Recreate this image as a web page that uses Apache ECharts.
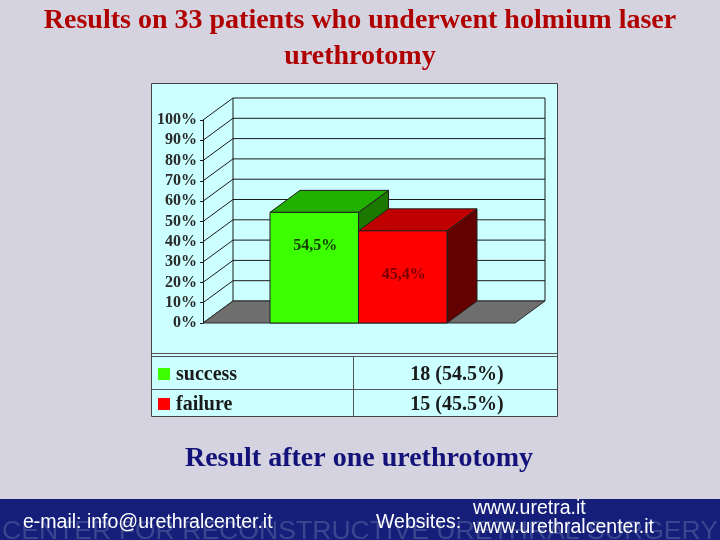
<!DOCTYPE html>
<html><head><meta charset="utf-8">
<script src="https://cdn.jsdelivr.net/npm/echarts@6/dist/echarts.min.js"></script>
<style>html,body{margin:0;padding:0;background:#d4d3df}#c{width:720px;height:540px}</style>
</head><body><div id="c"></div>
<script>
// ---- data ----
const categories = ['success', 'failure'];
const percentValues = [54.5, 45.4];
const barLabels = ['54,5%', '45,4%'];
const patientCounts = [18, 15];
const tablePercents = ['54.5%', '45.5%'];
const yTicks = [0, 10, 20, 30, 40, 50, 60, 70, 80, 90, 100];
const titleLines = ['Results on 33 patients who underwent holmium laser', 'urethrotomy'];
const subtitleText = 'Result after one urethrotomy';

// ---- style ----
const DX = 30, DY = -22;
const frontColors = ['#3cff00', '#ff0000'];
const topColors = ['#22b000', '#c00000'];
const sideColors = ['#1d7800', '#630000'];
const labelColors = ['#153f00', '#7a0000'];
const labelDrop = [33, 44];
const SERIF = '"Liberation Serif","Times New Roman",serif';
const SANS = '"Liberation Sans",Arial,sans-serif';
const LINE = '#1a1a1a';

const chart = echarts.init(document.getElementById('c'));

function wallsItem(params, api) {
  const v = api.value(1);
  const pL = api.coord([0, v]);
  const pR = api.coord([1, v]);
  const children = [];
  children.push({type: 'line', shape: {x1: pL[0] + DX, y1: pL[1] + DY, x2: pR[0] + DX, y2: pR[1] + DY}, style: {stroke: LINE, lineWidth: 1}});
  children.push({type: 'line', shape: {x1: pL[0], y1: pL[1], x2: pL[0] + DX, y2: pL[1] + DY}, style: {stroke: LINE, lineWidth: 1}});
  if (params.dataIndex === 0) {
    children.push({type: 'polygon', shape: {points: [[pL[0], pL[1]], [pR[0], pR[1]], [pR[0] + DX, pR[1] + DY], [pL[0] + DX, pL[1] + DY]]},
      style: {fill: '#6e6e6e', stroke: '#2a2a2a', lineWidth: 1}});
  }
  if (params.dataIndex === yTicks.length - 1) {
    const bL = api.coord([0, 0]), bR = api.coord([1, 0]);
    children.push({type: 'line', shape: {x1: bL[0] + DX, y1: bL[1] + DY, x2: pL[0] + DX, y2: pL[1] + DY}, style: {stroke: LINE, lineWidth: 1}});
    children.push({type: 'line', shape: {x1: bR[0] + DX, y1: bR[1] + DY, x2: pR[0] + DX, y2: pR[1] + DY}, style: {stroke: LINE, lineWidth: 1}});
  }
  return {type: 'group', children};
}

function barItem(params, api) {
  const i = params.dataIndex;
  const top = api.coord([api.value(0), api.value(1)]);
  const base = api.coord([api.value(0), 0]);
  const w = api.size([1, 0])[0];
  const x0 = top[0] - w / 2, x1 = top[0] + w / 2, yT = top[1], yB = base[1];
  const st = {stroke: '#202020', lineWidth: 1};
  return {type: 'group', children: [
    {type: 'polygon', shape: {points: [[x1, yT], [x1 + DX, yT + DY], [x1 + DX, yB + DY], [x1, yB]]}, style: Object.assign({fill: sideColors[i]}, st)},
    {type: 'polygon', shape: {points: [[x0, yT], [x0 + DX, yT + DY], [x1 + DX, yT + DY], [x1, yT]]}, style: Object.assign({fill: topColors[i]}, st)},
    {type: 'rect', shape: {x: x0, y: yT, width: w, height: yB - yT}, style: Object.assign({fill: frontColors[i]}, st)},
    {type: 'text', style: {text: barLabels[i], x: top[0] + 1, y: yT + labelDrop[i], fill: labelColors[i],
      font: 'bold 16px ' + SERIF, align: 'center', verticalAlign: 'middle', textAlign: 'center', textVerticalAlign: 'middle'}}
  ]};
}

// ---- graphic: box, table, titles, footer ----
const g = [];
g.push({type: 'rect', z: -10, shape: {x: 151.5, y: 83.5, width: 406, height: 333}, style: {fill: '#ccffff', stroke: '#444', lineWidth: 1}});
g.push({type: 'line', z: -5, shape: {x1: 151, y1: 353.5, x2: 557, y2: 353.5}, style: {stroke: '#555', lineWidth: 1}});
g.push({type: 'line', z: -5, shape: {x1: 151, y1: 356.5, x2: 557, y2: 356.5}, style: {stroke: '#555', lineWidth: 1}});
g.push({type: 'line', z: -5, shape: {x1: 151, y1: 389.5, x2: 557, y2: 389.5}, style: {stroke: '#555', lineWidth: 1}});
g.push({type: 'line', z: -5, shape: {x1: 353.5, y1: 356, x2: 353.5, y2: 416}, style: {stroke: '#555', lineWidth: 1}});
const rowY = [375, 405];
categories.forEach((c, i) => {
  g.push({type: 'rect', shape: {x: 158, y: rowY[i] - 7, width: 12, height: 12}, style: {fill: frontColors[i]}});
  g.push({type: 'text', style: {text: c, x: 176, y: rowY[i], fill: '#1a1a1a', font: 'bold 20px ' + SERIF, textAlign: 'left', textVerticalAlign: 'middle', align: 'left', verticalAlign: 'middle'}});
  g.push({type: 'text', style: {text: patientCounts[i] + ' (' + tablePercents[i] + ')', x: 457, y: rowY[i], fill: '#1a1a1a', font: 'bold 20px ' + SERIF, textAlign: 'center', textVerticalAlign: 'middle', align: 'center', verticalAlign: 'middle'}});
});
const titleY = [21, 57];
titleLines.forEach((t, i) => {
  g.push({type: 'text', style: {text: t, x: 360, y: titleY[i], fill: '#b00000', font: 'bold 28px ' + SERIF, textAlign: 'center', textVerticalAlign: 'middle', align: 'center', verticalAlign: 'middle'}});
});
g.push({type: 'text', style: {text: subtitleText, x: 359, y: 459, fill: '#12127a', font: 'bold 28px ' + SERIF, textAlign: 'center', textVerticalAlign: 'middle', align: 'center', verticalAlign: 'middle'}});
// footer
g.push({type: 'rect', shape: {x: 0, y: 499, width: 720, height: 41}, style: {fill: '#151f7a'}});
g.push({type: 'text', style: {text: 'CENTER FOR RECONSTRUCTIVE URETHRAL SURGERY', x: 360, y: 532, fill: '#3a4590', font: '26.6px ' + SANS, textAlign: 'center', textVerticalAlign: 'middle', align: 'center', verticalAlign: 'middle'}});
g.push({type: 'text', style: {text: 'e-mail: info@urethralcenter.it', x: 23, y: 523, fill: '#ffffff', font: '19.5px ' + SANS, textAlign: 'left', textVerticalAlign: 'middle', align: 'left', verticalAlign: 'middle'}});
g.push({type: 'text', style: {text: 'Websites:', x: 376, y: 523, fill: '#ffffff', font: '19.5px ' + SANS, textAlign: 'left', textVerticalAlign: 'middle', align: 'left', verticalAlign: 'middle'}});
g.push({type: 'text', style: {text: 'www.uretra.it', x: 473, y: 509, fill: '#ffffff', font: '19.5px ' + SANS, textAlign: 'left', textVerticalAlign: 'middle', align: 'left', verticalAlign: 'middle'}});
g.push({type: 'text', style: {text: 'www.urethralcenter.it', x: 473, y: 528, fill: '#ffffff', font: '19.5px ' + SANS, textAlign: 'left', textVerticalAlign: 'middle', align: 'left', verticalAlign: 'middle'}});

chart.setOption({
  backgroundColor: '#d4d3df',
  animation: false,
  graphic: {elements: g},
  grid: [
    {left: 203, top: 120, width: 312, height: 203},
    {left: 270, top: 120, width: 177, height: 203}
  ],
  xAxis: [
    {gridIndex: 0, type: 'value', min: 0, max: 1, show: false},
    {gridIndex: 1, type: 'category', data: categories, show: false}
  ],
  yAxis: [
    {gridIndex: 0, type: 'value', min: 0, max: 100, interval: 10,
      axisLine: {show: true, lineStyle: {color: LINE, width: 1}},
      axisTick: {show: true, length: 3, lineStyle: {color: LINE}},
      axisLabel: {formatter: v => v + '%', color: '#2a2a2a', fontFamily: SERIF, fontWeight: 'bold', fontSize: 16, margin: 6},
      splitLine: {show: false}},
    {gridIndex: 1, type: 'value', min: 0, max: 100, show: false}
  ],
  series: [
    {type: 'custom', name: 'walls', xAxisIndex: 0, yAxisIndex: 0, clip: false, silent: true, z: 1,
      data: yTicks.map(t => [0, t]), encode: {x: 0, y: 1}, renderItem: wallsItem},
    {type: 'custom', name: 'result', xAxisIndex: 1, yAxisIndex: 1, clip: false, z: 3,
      data: categories.map((c, i) => [i, percentValues[i]]), encode: {x: 0, y: 1}, renderItem: barItem}
  ]
});
</script></body></html>
